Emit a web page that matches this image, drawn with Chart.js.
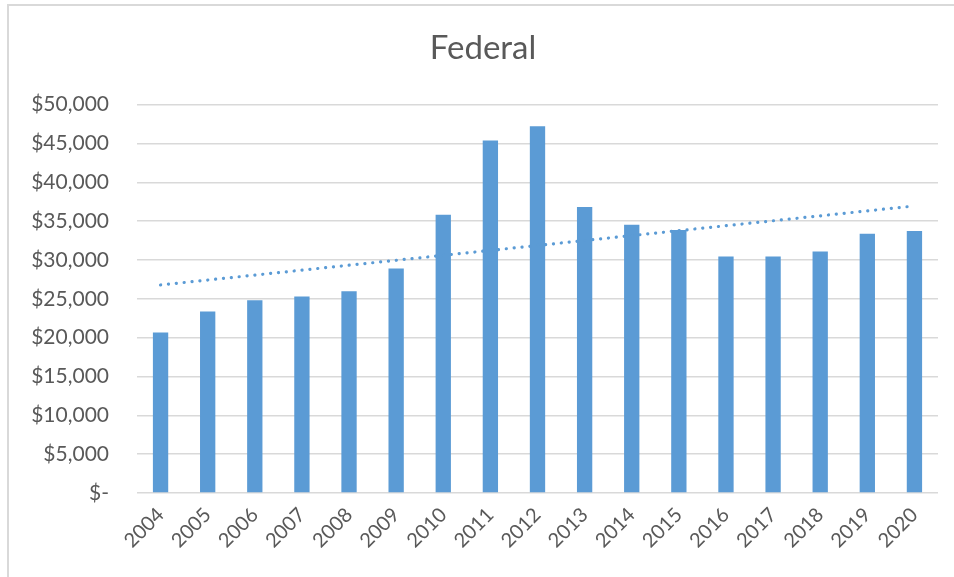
<!DOCTYPE html>
<html>
<head>
<meta charset="utf-8">
<title>Federal</title>
<script src="https://cdn.jsdelivr.net/npm/chart.js@4"></script>
<style>
  html, body { margin: 0; padding: 0; background: #fff; }
  #wrap { position: relative; width: 954px; height: 577px; }
  #frame { position: absolute; left: 7px; top: 4px; right: 0; bottom: 0;
           border-top: 2px solid #d9d9d9; border-left: 2px solid #d9d9d9; }
  canvas { position: absolute; left: 0; top: 0; }
</style>
</head>
<body>
<div id="wrap">
  <div id="frame"></div>
  <canvas id="chart" width="954" height="577"></canvas>
</div>
<script>
// 연도 & 금액
const years = ['2004', '2005', '2006', '2007', '2008', '2009', '2010', '2011', '2012',
               '2013', '2014', '2015', '2016', '2017', '2018', '2019', '2020'];
const federal = [20670, 23370, 24820, 25300, 25980, 28890, 35830, 45370, 47210,
                 36810, 34540, 33860, 30430, 30430, 31080, 33390, 33730];
const yTicks = [0, 5000, 10000, 15000, 20000, 25000, 30000, 35000, 40000, 45000, 50000];

// 선형 추세선 (최소제곱)
function linearTrend(values) {
    const n = values.length;
    const mx = (n - 1) / 2;
    const my = values.reduce((a, b) => a + b, 0) / n;
    let num = 0, den = 0;
    values.forEach((v, i) => { num += (i - mx) * (v - my); den += (i - mx) * (i - mx); });
    const slope = num / den;
    return values.map((v, i) => my + slope * (i - mx));
}

const textColor = '#595959';
const barColor = '#5b9bd5';

new Chart(document.getElementById('chart').getContext('2d'), {
    type: 'bar',
    data: {
        labels: years,
        datasets: [
            {
                type: 'line',
                label: 'Linear (Federal)',
                data: linearTrend(federal),
                borderColor: barColor,
                borderWidth: 3.2,
                borderDash: [0.1, 7.8],
                borderCapStyle: 'round',
                pointRadius: 0,
                fill: false,
                order: 0
            },
            {
                label: 'Federal',
                data: federal,
                backgroundColor: barColor,
                borderWidth: 0,
                categoryPercentage: 0.325,
                barPercentage: 1,
                order: 1
            }
        ]
    },
    options: {
        responsive: false,
        animation: false,
        layout: { padding: { left: 28, right: 16, top: 0, bottom: 0 } },
        plugins: {
            legend: { display: false },
            tooltip: { enabled: false },
            title: {
                display: true,
                text: 'Federal',
                color: textColor,
                font: { family: 'Lato', size: 33, weight: 'normal' },
                padding: { top: 29, bottom: 36 }
            }
        },
        scales: {
            x: {
                grid: { display: false },
                border: { display: false },
                ticks: {
                    color: textColor,
                    font: { family: 'Lato', size: 20 },
                    minRotation: 45,
                    maxRotation: 45,
                    padding: 2
                },
                afterFit: (scale) => { scale.height = 84; }
            },
            y: {
                min: 0,
                max: 50000,
                afterBuildTicks: (scale) => { scale.ticks = yTicks.map(v => ({ value: v })); },
                grid: { color: '#d9d9d9', lineWidth: 1.5, drawTicks: false },
                border: { display: false },
                ticks: {
                    color: textColor,
                    font: { family: 'Lato', size: 21 },
                    padding: 28,
                    callback: (v) => v === 0 ? '$-' : '$' + v.toLocaleString('en-US')
                },
                afterFit: (scale) => { scale.width = 109; }
            }
        }
    }
});
</script>
</body>
</html>
